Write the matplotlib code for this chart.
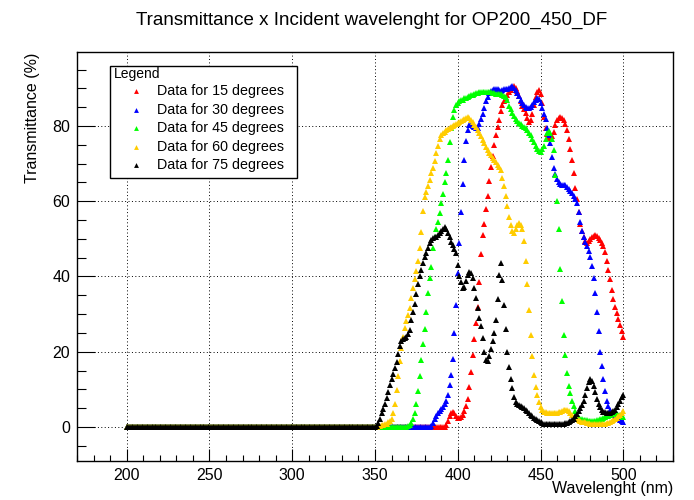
import numpy as np
import matplotlib
matplotlib.use("Agg")
import matplotlib.pyplot as plt
from matplotlib.ticker import MultipleLocator
from matplotlib.patches import Rectangle
from matplotlib.lines import Line2D

plt.rcParams["font.family"] = ["Liberation Sans", "DejaVu Sans"]

# wavelength axis, 1 nm steps
wavelength = np.arange(200, 501)

# 200-349 nm: every angle reads 0 %
uv_zeros = [0.0] * 150

# 350-500 nm
t15 = [0.0] * 43 + [
    0.5, 1.5, 2.8, 3.7, 4.0, 3.6, 2.9,                      # 393-399
    2.4, 2.3, 2.6, 3.2, 4.3, 5.5, 7.5, 10.5, 14.5, 19.0,    # 400-409
    23.5, 27.5, 32.0, 38.5, 46.0, 51.0, 54.0, 58.0, 61.5, 65.5,
    69.0, 72.0, 75.0, 77.5, 79.6, 81.5, 84.0, 85.5, 86.5, 87.5,
    88.3, 89.0, 89.6, 90.2, 90.5, 90.2, 89.2, 88.0, 86.6, 85.3,
    84.5, 83.5, 82.0, 81.0, 81.5, 83.2, 85.5, 87.6, 89.0, 89.5,
    88.6, 86.0, 82.5, 79.5, 77.8, 77.0, 76.8, 77.2, 78.5, 80.3,
    81.5, 82.0, 82.3, 82.2, 81.6, 80.5, 78.8, 76.5, 73.8, 71.0,
    67.5, 63.5, 60.5, 57.0, 54.0, 52.0, 50.5, 49.5, 49.0, 49.3,
    50.0, 50.4, 50.8, 51.0, 50.8, 50.3, 49.6, 48.8, 48.0, 46.5,
    44.2, 41.8, 39.2, 36.5, 34.0, 32.0, 30.4, 28.8, 27.1, 25.4,
    24.0,
]

t30 = [0.0] * 34 + [
    0.3, 1.0, 2.0, 2.8, 3.6, 4.2,                           # 384-389
    4.8, 5.4, 6.1, 7.0, 8.6, 11.2, 13.8, 18.0, 25.0, 32.5,
    41.0, 49.0, 57.0, 64.5, 71.0, 76.0, 79.0, 80.2, 80.3, 79.9,
    79.7, 79.5, 79.4, 80.6, 81.8, 83.3, 84.8, 86.5, 87.8, 88.7,
    89.2, 89.5, 89.7, 89.8, 89.7, 89.6, 89.4, 89.6, 89.9, 89.7,
    89.8, 90.1, 90.3, 90.5, 90.2, 89.6, 88.8, 87.9, 86.9, 86.2,
    85.5, 85.0, 84.7, 84.7, 85.0, 85.7, 86.4, 87.0, 87.4, 87.2,
    86.2, 84.7, 83.1, 81.8, 79.4, 77.6, 75.6, 71.8, 68.9, 67.2,
    65.8, 65.0, 64.6, 64.4, 64.3, 64.2, 63.8, 63.2, 62.6, 62.1,
    61.5, 60.7, 59.4, 57.2, 54.5, 52.2, 50.5, 49.2, 48.0, 46.8,
    45.3, 42.8, 39.5, 35.5, 30.5, 25.5, 20.0, 16.2, 12.8, 9.6,
    7.0, 5.5, 4.5, 3.8, 3.2, 2.7, 2.3, 2.0, 1.8, 1.6,
    1.4,
]

t45 = [0.0] * 20 + [
    0.2, 0.5, 1.0, 2.0, 3.8, 6.0, 9.5, 13.5, 17.8, 22.0,    # 370-379
    26.0, 30.5, 35.5, 39.5, 42.5, 47.5, 50.5, 52.5, 54.5, 56.8,
    59.5, 62.0, 65.0, 67.6, 71.0, 75.8, 79.5, 82.5, 84.3, 85.6,
    86.2, 86.5, 86.8, 87.0, 87.3, 87.5, 87.7, 87.9, 88.1, 88.3,
    88.5, 88.7, 88.8, 88.9, 89.0, 89.1, 89.1, 89.1, 89.1, 89.0,
    88.9, 88.8, 88.7, 88.6, 88.6, 88.6, 88.5, 88.3, 88.0, 87.6,
    86.8, 85.4, 84.4, 83.4, 82.6, 81.8, 81.3, 80.9, 80.4, 80.0,
    79.8, 79.5, 78.9, 78.2, 77.5, 76.6, 75.7, 74.7, 73.9, 73.4,
    73.2, 73.8, 74.8, 76.5, 78.0, 78.6, 78.0, 76.5, 73.5, 67.0,
    60.0, 52.5, 42.0, 33.5, 24.5, 19.0, 14.3, 11.0, 9.0, 7.0,
    5.5, 4.2, 3.2, 2.5, 2.2, 2.0, 1.9, 1.9, 1.8, 1.7,
    1.7, 1.7, 1.7, 1.7, 1.8, 1.9, 2.0, 2.2, 2.4, 2.6,
    2.8, 3.0, 3.2, 3.4, 3.5, 3.6, 3.5, 3.3, 3.1, 2.9,
    2.7,
]

t60 = [
    0.0, 0.1, 0.2, 0.3, 0.4, 0.5, 0.7, 0.9, 1.2, 1.6,       # 350-359
    2.2, 3.6, 6.0, 9.8, 13.5, 17.5, 21.0, 24.0, 26.2, 28.2,
    29.8, 31.5, 34.3, 36.8, 39.2, 41.5, 44.0, 47.5, 51.8, 57.5,
    61.0, 62.5, 64.0, 65.6, 67.5, 68.8, 70.8, 72.8, 74.8, 76.5,
    77.5, 78.0, 78.4, 78.8, 79.2, 79.5, 79.8, 80.1, 80.3, 80.5,
    80.7, 81.0, 81.3, 81.6, 81.9, 82.2, 82.3, 82.0, 81.6, 81.0,
    80.3, 79.7, 79.0, 78.1, 77.2, 76.3, 75.4, 74.5, 73.6, 72.9,
    72.2, 71.6, 71.0, 70.3, 69.6, 69.0, 68.2, 66.3, 64.0, 61.3,
    58.6, 55.8, 53.6, 52.0, 51.6, 52.6, 53.8, 54.3, 53.8, 52.6,
    49.5, 44.0, 38.0, 31.0, 24.5, 18.8, 13.8, 10.7, 8.5, 6.7,
    5.2, 4.5, 4.1, 3.9, 3.8, 3.8, 3.7, 3.7, 3.7, 3.7,
    3.8, 3.9, 4.1, 4.3, 4.5, 4.6, 4.5, 4.2, 3.8, 3.2,
    2.7, 2.3, 2.0, 1.8, 1.6, 1.4, 1.3, 1.2, 1.1, 1.0,
    0.9, 0.8, 0.8, 0.8, 0.8, 0.8, 0.8, 0.8, 0.8, 0.9,
    1.0, 1.1, 1.3, 1.5, 1.8, 2.1, 2.4, 2.8, 3.2, 3.7,
    4.3,
]

t75 = [
    0.0, 0.3, 1.0, 2.2, 3.6, 4.9, 6.1, 7.6, 9.4, 11.2,      # 350-359
    12.7, 14.1, 15.6, 17.3, 19.3, 21.5, 22.9, 23.4, 23.7, 23.9,
    24.8, 25.9, 28.3, 30.5, 32.6, 35.3, 38.0, 40.2, 41.6, 43.5,
    45.2, 46.3, 47.6, 48.8, 49.7, 50.2, 50.4, 50.6, 51.0, 51.6,
    52.1, 52.6, 53.1, 52.6, 51.6, 50.4, 49.2, 48.3, 47.4, 46.2,
    43.0, 40.0, 38.5, 37.0, 37.3, 38.8, 40.4, 41.3, 40.8, 39.5,
    37.0, 34.3, 31.5, 29.0, 26.7, 23.6, 20.0, 17.8, 17.5, 18.8,
    20.8, 22.8, 25.0, 28.5, 34.0, 40.5, 43.5, 39.0, 32.5, 26.0,
    20.0, 16.0, 12.8, 10.3, 8.0, 6.6, 6.0, 5.8, 5.6, 5.4,
    5.0, 4.6, 4.2, 3.8, 3.3, 2.9, 2.5, 2.2, 1.8, 1.5,
    1.2, 1.0, 0.9, 0.8, 0.7, 0.7, 0.7, 0.7, 0.7, 0.7,
    0.7, 0.7, 0.7, 0.8, 0.9, 1.0, 1.1, 1.3, 1.6, 1.9,
    2.2, 2.8, 3.4, 4.2, 5.0, 5.8, 6.8, 8.6, 10.4, 11.9,
    12.7, 12.2, 10.8, 9.2, 7.4, 6.1, 5.2, 4.6, 4.1, 3.9,
    3.8, 3.7, 3.7, 3.9, 4.2, 4.6, 5.2, 6.1, 7.0, 8.0,
    8.6,
]

labels = ["Data for 15 degrees", "Data for 30 degrees", "Data for 45 degrees",
          "Data for 60 degrees", "Data for 75 degrees"]
colors = ["#ff0000", "#0000ff", "#00ff00", "#ffcc00", "#000000"]
series = [t15, t30, t45, t60, t75]

fig = plt.figure(figsize=(6.94, 5.0), dpi=100)
W, H = 694.0, 500.0
ax = fig.add_axes([77 / W, 39 / H, 596 / W, 408.6 / H])

for vals, col, lab in zip(series, colors, labels):
    y = np.array(uv_zeros + vals)
    ax.plot(wavelength, y, linestyle="none", marker="^", markersize=4.0,
            markeredgewidth=0, color=col, label=lab)

ax.set_xlim(170, 530)
ax.set_ylim(-9.05, 99.55)

ax.xaxis.set_major_locator(MultipleLocator(50))
ax.xaxis.set_minor_locator(MultipleLocator(10))
ax.yaxis.set_major_locator(MultipleLocator(20))
ax.yaxis.set_minor_locator(MultipleLocator(5))

ax.tick_params(which="both", direction="in", top=False, right=False,
               width=0.8, colors="black", labelsize=11.5)
ax.tick_params(axis="x", which="major", length=8.6, pad=5)
ax.tick_params(axis="x", which="minor", length=4.3)
ax.tick_params(axis="y", which="major", length=13, pad=5)
ax.tick_params(axis="y", which="minor", length=6.5)

ax.grid(True, which="major", color="black", linestyle=(0, (1, 2.5)),
        linewidth=0.7)
ax.set_axisbelow(True)
for sp in ax.spines.values():
    sp.set_linewidth(1.0)
    sp.set_color("black")

ax.set_xlabel("Wavelenght (nm)", fontsize=11.5, ha="right", x=1.0)
ax.xaxis.set_label_coords(1.0, -0.05)
ax.set_ylabel("Transmittance (%)", fontsize=11.5, ha="right", y=1.0)
ax.yaxis.set_label_coords(-0.062, 1.0)

fig.text(372 / W, 1 - 20 / H, "Transmittance x Incident wavelenght for OP200_450_DF",
         ha="center", va="center", fontsize=13.5)

# legend box drawn by hand, ROOT style
fig.add_artist(Rectangle((110 / W, 1 - 178 / H), 187 / W, 112 / H,
                         transform=fig.transFigure, facecolor="white",
                         edgecolor="black", linewidth=1.0, zorder=5))
fig.text(114 / W, 1 - 74 / H, "Legend", ha="left", va="center",
         fontsize=10, zorder=6)
row_y = [91, 110, 128, 147, 165]
for ry, col, lab in zip(row_y, colors, labels):
    fig.add_artist(Line2D([136 / W], [1 - ry / H], transform=fig.transFigure,
                          linestyle="none", marker="^", markersize=3.5,
                          markeredgewidth=0, color=col, zorder=6))
    fig.text(157 / W, 1 - ry / H, lab, ha="left", va="center",
             fontsize=10.3, zorder=6)

fig.savefig("out.png", dpi=100)
